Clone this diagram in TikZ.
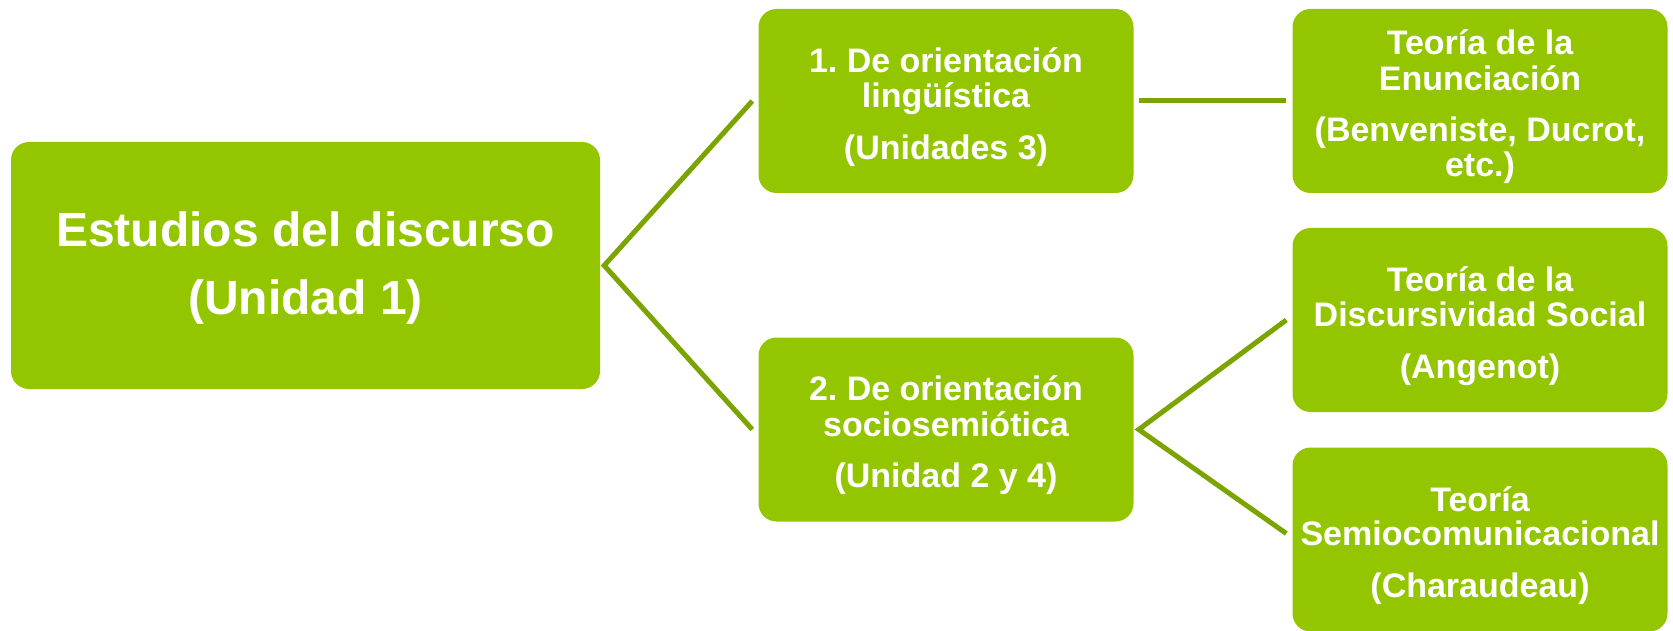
\documentclass[tikz,border=0pt]{standalone}
\usepackage{fontspec}
\setmainfont{Liberation Sans}
\frenchspacing
\definecolor{leaf}{HTML}{94C600}
\definecolor{twig}{HTML}{7CA400}
% taller box on top = text sits lower in the node
\newcommand{\lines}[2][15pt]{\raisebox{0pt}[\dimexpr\height+#1\relax][\depth]{\begin{tabular}{@{}c@{}}#2\end{tabular}}}

\begin{document}
\begin{tikzpicture}[x=1pt,y=-1pt]
        \tikzstyle{every node}=[fill=leaf,rounded corners=18pt,text=white,align=center,inner sep=0pt,font=\bfseries\fontsize{34}{34}\selectfont]
        \tikzstyle{branch}=[minimum width=375pt, minimum height=184pt]
        \tikzstyle{link}=[draw=twig, line width=5pt, line join=miter]
        \useasboundingbox (0,0) rectangle (1673,631);
        \node[minimum width=589pt, minimum height=247pt, font=\bfseries\fontsize{48}{55}\selectfont] (estudios) at (305.5,265.5) {\lines[8pt]{Estudios del discurso\\[14pt](Unidad 1)}};
        \node[branch] (ling) at (946,101) {\lines{1. De orientación\\lingüística\\[17pt](Unidades 3)}};
        \node[branch] (socio) at (946,429.5) {\lines{2. De orientación\\sociosemiótica\\[17pt](Unidad 2 y 4)}};
        \node[branch] (enunc) at (1480,101) {\lines{Teoría de la\\Enunciación\\[17pt](Benveniste, Ducrot,\\etc.)}};
        \node[branch] (discur) at (1480,320) {\lines{Teoría de la\\Discursividad Social\\[17pt](Angenot)}};
        \node[branch] (semio) at (1480,539.5) {\lines{Teoría\\Semiocomunicacional\\[17pt](Charaudeau)}};
        % lines between the boxes
        \draw[link] ([xshift=-6pt]ling.west) -- ([xshift=4pt]estudios.east) -- ([xshift=-6pt]socio.west);
        \draw[link] ([xshift=5pt]ling.east) -- ([xshift=-6pt]enunc.west);
        \draw[link] ([xshift=-6pt]discur.west) -- ([xshift=5pt]socio.east) -- ([xshift=-6pt,yshift=6pt]semio.west);
    \end{tikzpicture}
\end{document}
